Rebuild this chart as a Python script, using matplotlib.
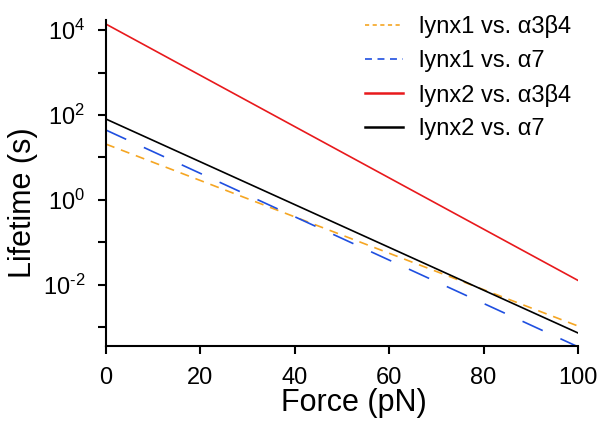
import matplotlib
matplotlib.use("Agg")
import matplotlib.pyplot as plt
from matplotlib.lines import Line2D
import numpy as np
from matplotlib.ticker import FixedLocator, FuncFormatter

plt.rcParams['font.family'] = ['Liberation Sans', 'DejaVu Sans']
plt.rcParams['mathtext.fontset'] = 'custom'
plt.rcParams['mathtext.rm'] = 'Liberation Sans'
plt.rcParams['mathtext.it'] = 'Liberation Sans:italic'
plt.rcParams['lines.scale_dashes'] = False

# Data: lifetimes (s) at force endpoints (pN)
force = [0, 100]
lynx1_a3b4 = [20.5, 1.05e-3]
lynx1_a7 = [44, 3.4e-4]
lynx2_a3b4 = [1.39e4, 1.25e-2]
lynx2_a7 = [80, 7.2e-4]

labels = ['lynx1 vs. α3β4', 'lynx1 vs. α7', 'lynx2 vs. α3β4', 'lynx2 vs. α7']
colors = ['#f5a623', '#1f4fe0', '#e8191c', 'black']

W, H = 604, 426
fig = plt.figure(figsize=(W/100, H/100), dpi=100)
ax = fig.add_axes([106/W, 1-346/H, (578-106)/W, (346-20)/H])

ax.plot(force, lynx1_a3b4, color=colors[0], lw=1.2, dashes=(6.5, 5))
ax.plot(force, lynx1_a7, color=colors[1], lw=1.2, dashes=(16, 14))
ax.plot(force, lynx2_a3b4, color=colors[2], lw=1.2)
ax.plot(force, lynx2_a7, color=colors[3], lw=1.2)

ax.set_yscale('log')
ax.set_xlim(0, 100)
ax.set_ylim(10**-3.45, 10**4.24)
ax.set_xticks([0, 20, 40, 60, 80, 100])
ax.yaxis.set_major_locator(FixedLocator([10.0**k for k in range(-3, 5)]))
ax.yaxis.set_minor_locator(FixedLocator([]))

def fmt(v, pos):
    k = int(round(np.log10(v)))
    if k % 2:
        return ''
    if k < 0:
        return r'$10^{\text{-}%d}$' % (-k)
    return r'$10^{%d}$' % k
ax.yaxis.set_major_formatter(FuncFormatter(fmt))

for s in ['top', 'right']:
    ax.spines[s].set_visible(False)
for s in ['left', 'bottom']:
    ax.spines[s].set_linewidth(1.5)
ax.tick_params(direction='out', length=6, width=1.5, labelsize=17)
ax.tick_params(axis='x', pad=9)
ax.tick_params(axis='y', pad=9)

ax.set_xlabel('Force (pN)', fontsize=22)
ax.set_ylabel('Lifetime (s)', fontsize=22)
ax.xaxis.set_label_coords(0.525, -0.13)
ax.yaxis.set_label_coords(-0.144, 0.44)

handles = [
    Line2D([], [], color=colors[0], lw=1.2, dashes=(3, 2.5)),
    Line2D([], [], color=colors[1], lw=1.2, dashes=(5, 4)),
    Line2D([], [], color=colors[2], lw=1.8),
    Line2D([], [], color=colors[3], lw=1.8),
]
leg = fig.legend(handles, labels, loc='upper left', frameon=False, fontsize=17,
                 handlelength=1.6, handletextpad=0.7, labelspacing=0.5,
                 borderpad=0, borderaxespad=0,
                 bbox_to_anchor=(365/W, 1-15/H))

fig.savefig('out.png', dpi=100)
